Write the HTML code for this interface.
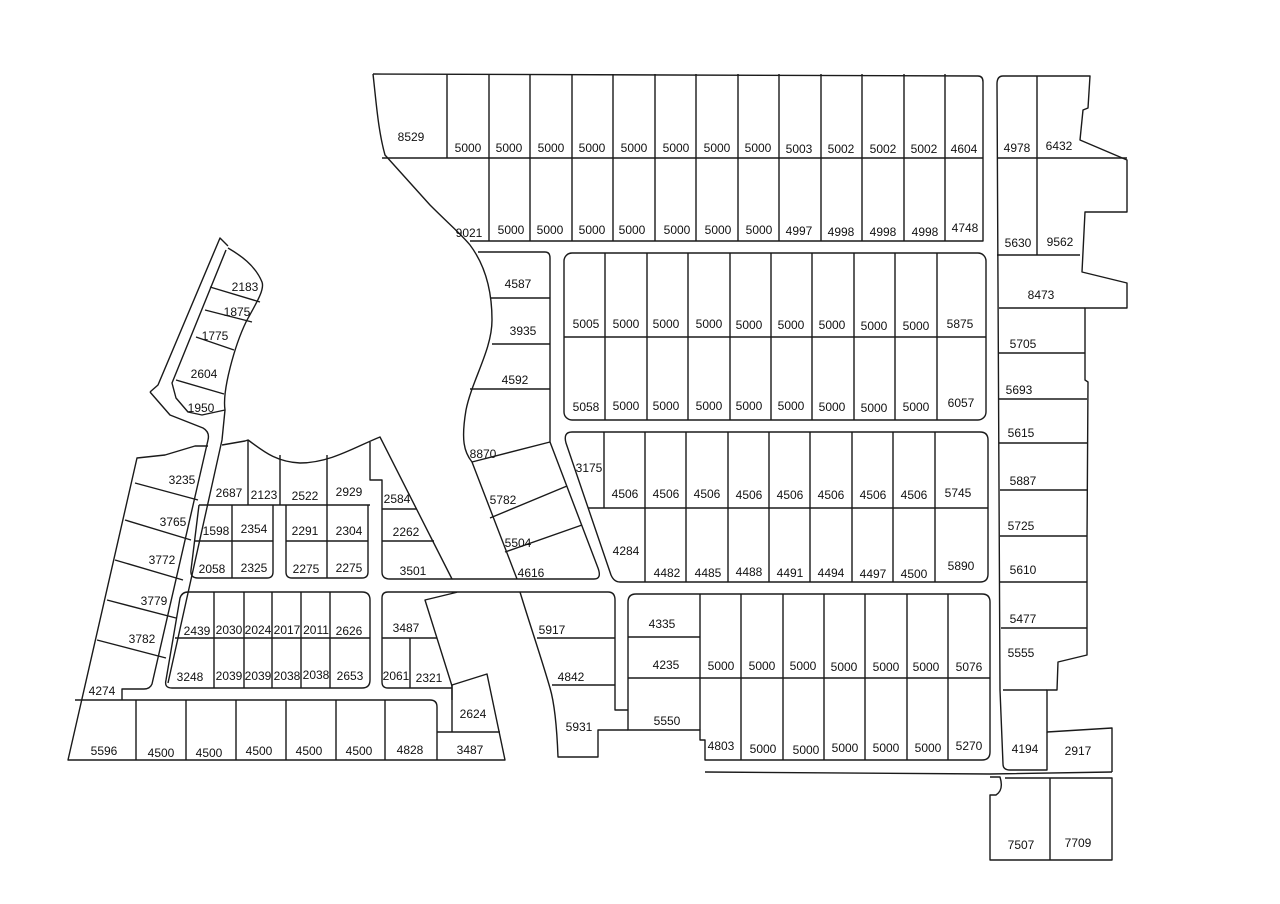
<!DOCTYPE html>
<html><head><meta charset="utf-8"><style>
html,body{margin:0;padding:0;background:#fff}
svg{display:block}
text{font-family:"Liberation Sans",sans-serif;font-size:12px;fill:#111;text-anchor:middle}
</style></head><body>
<svg width="1280" height="904" viewBox="0 0 1280 904" xmlns="http://www.w3.org/2000/svg">
<g fill="none" stroke="#1a1a1a" stroke-width="1.4" stroke-linejoin="round">
<!-- Top block -->
<path d="M373,74 L978,76 Q983,76 983,82 L983,241 L470,241"/>
<path d="M373,74 C376,100 378,130 385,155 L430,205 C450,225 462,235 470,245 C485,265 492,290 492,320 C492,350 472,380 466,410 C461,440 464,452 472,462 L517,579"/>
<path d="M382,158 L983,158"/>
<path d="M447,74 V158 M489,158 V241 M489,74 V158 M530,74 V241 M572,74 V241 M613,74 V241 M655,74 V241 M696,74 V241 M738,74 V241 M779,74 V241 M821,74 V241 M862,74 V241 M904,74 V241 M945,74 V241"/>
<!-- 4587 block -->
<path d="M478,252 L545,252 Q550,252 550,258 L550,442 L598,568 Q602,579 594,579 L517,579"/>
<path d="M490,298 H550 M492,344 H550 M470,389 H550 M472,462 L550,442 M490,518 L567,486 M505,552 L582,525"/>
<!-- Block 1 -->
<rect x="564" y="253" width="422" height="167" rx="8"/>
<path d="M564,337 H986 M605,253 V420 M647,253 V420 M688,253 V420 M730,253 V420 M771,253 V420 M812,253 V420 M854,253 V420 M895,253 V420 M937,253 V420"/>
<!-- Block 2 -->
<path d="M572,432 L980,432 Q988,432 988,440 L988,574 Q988,582 980,582 L620,582 Q614,582 611,575 L566,443 Q563,432 572,432 Z"/>
<path d="M588,508 H988 M604,432 V508 M645,432 V582 M686,432 V582 M728,432 V582 M769,432 V582 M810,432 V582 M852,432 V582 M893,432 V582 M935,432 V582"/>
<!-- Block 3 -->
<path d="M636,594 L982,594 Q990,594 990,602 L990,752 Q990,760 982,760 L705,760 L705,740 L700,740 L700,730 L628,730 L628,602 Q628,594 636,594 Z"/>
<path d="M628,637 H700 M628,678 H990 M700,594 V730 M741,594 V760 M783,594 V760 M824,594 V760 M865,594 V760 M907,594 V760 M948,594 V760"/>
<path d="M705,772 L990,774 L1112,772"/>
<!-- 5917 block -->
<path d="M520,592 L608,592 Q615,592 615,600 L615,710 L628,710"/>
<path d="M628,730 L598,730 L598,757 L558,757 C557,730 555,705 550,688 C542,660 530,625 520,592"/>
<path d="M537,638 H615 M552,685 H615"/>
<!-- road line -->
<path d="M452,579 H517 M458,592 H520"/>
<!-- Left strip lots -->
<path d="M150,392 L158,385 L220,238 L228,246 M226,250 L172,383 L176,398 L188,412 L202,415 L225,410 C222,390 235,345 246,322 C255,305 265,290 262,282 C255,265 240,255 228,248"/>
<path d="M150,392 L170,415 L203,428 Q210,432 208,440 L152,684 Q150,689 144,689 L122,689 L122,700"/>
<path d="M225,410 L222,440 L168,683"/>
<path d="M210,287 L260,302 M205,310 L252,322 M196,337 L234,350 M176,380 L224,394"/>
<!-- 3235 strip -->
<path d="M208,446 L195,446 L165,455 L137,458 L68,760 L505,760 L487,674 L452,685 L452,700"/>
<path d="M135,483 L198,500 M125,520 L191,540 M115,560 L183,580 M107,600 L176,618 M97,640 L166,658"/>
<path d="M75,700 L430,700 Q437,700 437,707 L437,760 M136,700 V760 M186,700 V760 M236,700 V760 M286,700 V760 M336,700 V760 M385,700 V760 M437,732 H500 M452,685 V732"/>
<!-- Block A -->
<path d="M222,445 L245,441 L248,440 C262,450 275,462 300,463 C330,463 355,447 380,437 L452,579 L390,579 Q382,579 382,572 L382,480 L370,480 L370,442"/>
<path d="M248,440 V505 M280,455 V505 M327,455 V505 M199,505 H370 M382,509 H417 M382,541 H434"/>
<path d="M199,505 L191,570 Q190,578 198,578 L267,578 Q273,578 273,572 L273,505 M195,541 H273 M232,505 V578"/>
<path d="M286,505 L286,572 Q286,578 292,578 L362,578 Q368,578 368,572 L368,505 M286,541 H368 M327,505 V578"/>
<!-- Block B -->
<path d="M188,592 L362,592 Q370,592 370,600 L370,680 Q370,688 362,688 L172,688 Q164,688 166,680 L180,598 Q182,592 188,592 Z"/>
<path d="M175,638 H370 M214,592 V688 M244,592 V688 M272,592 V688 M301,592 V688 M330,592 V688"/>
<!-- Block C -->
<path d="M458,592 L388,592 Q382,592 382,598 L382,682 Q382,688 388,688 L452,688 M458,592 L425,600 L452,686"/>
<path d="M382,638 H437 M410,638 V688"/>
<!-- Right column -->
<path d="M1003,76 L1090,76 L1088,108 L1083,110 L1080,140 L1127,160 L1127,212 L1085,212 L1082,272 L1127,283 L1127,308 L1085,308 L1085,380 L1088,382 L1087,540 L1087,655 L1058,662 L1057,690 L1047,690 L1047,732 L1112,728 L1112,772"/>
<path d="M1003,76 Q997,76 997,84 L1000,690 L1003,764 Q1003,770 1010,770 L1047,770 L1047,732"/>
<path d="M997,158 H1127 M1037,76 V255 M997,255 H1080 M999,308 H1085 M999,353 H1085 M999,399 H1087 M999,443 H1087 M1000,490 H1087 M1000,536 H1087 M1000,582 H1087 M1001,628 H1087 M1003,690 H1047"/>
<!-- 7507/7709 -->
<path d="M990,777 L1000,777 Q1004,790 996,795 L990,795 L990,860 L1112,860 L1112,778 L1005,778 M1050,778 V860"/>
</g>
<g>
<text x="411" y="141">8529</text>
<text x="468" y="152">5000</text><text x="509" y="152">5000</text><text x="551" y="152">5000</text><text x="592" y="152">5000</text><text x="634" y="152">5000</text><text x="676" y="152">5000</text><text x="717" y="152">5000</text><text x="758" y="152">5000</text><text x="799" y="153">5003</text><text x="841" y="153">5002</text><text x="883" y="153">5002</text><text x="924" y="153">5002</text><text x="964" y="153">4604</text>
<text x="469" y="237">9021</text><text x="511" y="234">5000</text><text x="550" y="234">5000</text><text x="592" y="234">5000</text><text x="632" y="234">5000</text><text x="677" y="234">5000</text><text x="718" y="234">5000</text><text x="759" y="234">5000</text><text x="799" y="235">4997</text><text x="841" y="236">4998</text><text x="883" y="236">4998</text><text x="925" y="236">4998</text><text x="965" y="232">4748</text>
<text x="1017" y="152">4978</text><text x="1059" y="150">6432</text><text x="1018" y="247">5630</text><text x="1060" y="246">9562</text><text x="1041" y="299">8473</text><text x="1023" y="348">5705</text><text x="1019" y="394">5693</text><text x="1021" y="437">5615</text><text x="1023" y="485">5887</text><text x="1021" y="530">5725</text><text x="1023" y="574">5610</text><text x="1023" y="623">5477</text><text x="1021" y="657">5555</text><text x="1025" y="753">4194</text><text x="1078" y="755">2917</text><text x="1021" y="849">7507</text><text x="1078" y="847">7709</text>
<text x="586" y="328">5005</text><text x="626" y="328">5000</text><text x="666" y="328">5000</text><text x="709" y="328">5000</text><text x="749" y="329">5000</text><text x="791" y="329">5000</text><text x="832" y="329">5000</text><text x="874" y="330">5000</text><text x="916" y="330">5000</text><text x="960" y="328">5875</text>
<text x="586" y="411">5058</text><text x="626" y="410">5000</text><text x="666" y="410">5000</text><text x="709" y="410">5000</text><text x="749" y="410">5000</text><text x="791" y="410">5000</text><text x="832" y="411">5000</text><text x="874" y="412">5000</text><text x="916" y="411">5000</text><text x="961" y="407">6057</text>
<text x="589" y="472">3175</text><text x="625" y="498">4506</text><text x="666" y="498">4506</text><text x="707" y="498">4506</text><text x="749" y="499">4506</text><text x="790" y="499">4506</text><text x="831" y="499">4506</text><text x="873" y="499">4506</text><text x="914" y="499">4506</text><text x="958" y="497">5745</text>
<text x="626" y="555">4284</text><text x="667" y="577">4482</text><text x="708" y="577">4485</text><text x="749" y="576">4488</text><text x="790" y="577">4491</text><text x="831" y="577">4494</text><text x="873" y="578">4497</text><text x="914" y="578">4500</text><text x="961" y="570">5890</text>
<text x="662" y="628">4335</text><text x="666" y="669">4235</text><text x="721" y="670">5000</text><text x="762" y="670">5000</text><text x="803" y="670">5000</text><text x="844" y="671">5000</text><text x="886" y="671">5000</text><text x="926" y="671">5000</text><text x="969" y="671">5076</text>
<text x="667" y="725">5550</text><text x="721" y="750">4803</text><text x="763" y="753">5000</text><text x="806" y="754">5000</text><text x="845" y="752">5000</text><text x="886" y="752">5000</text><text x="928" y="752">5000</text><text x="969" y="750">5270</text>
<text x="552" y="634">5917</text><text x="571" y="681">4842</text><text x="579" y="731">5931</text>
<text x="518" y="288">4587</text><text x="523" y="335">3935</text><text x="515" y="384">4592</text><text x="483" y="458">8870</text><text x="503" y="504">5782</text><text x="518" y="547">5504</text><text x="531" y="577">4616</text>
<text x="245" y="291">2183</text><text x="237" y="316">1875</text><text x="215" y="340">1775</text><text x="204" y="378">2604</text><text x="201" y="412">1950</text>
<text x="182" y="484">3235</text><text x="173" y="526">3765</text><text x="162" y="564">3772</text><text x="154" y="605">3779</text><text x="142" y="643">3782</text><text x="102" y="695">4274</text>
<text x="229" y="497">2687</text><text x="264" y="499">2123</text><text x="305" y="500">2522</text><text x="349" y="496">2929</text><text x="397" y="503">2584</text>
<text x="216" y="535">1598</text><text x="254" y="533">2354</text><text x="305" y="535">2291</text><text x="349" y="535">2304</text><text x="406" y="536">2262</text>
<text x="212" y="573">2058</text><text x="254" y="572">2325</text><text x="306" y="573">2275</text><text x="349" y="572">2275</text><text x="413" y="575">3501</text>
<text x="197" y="635">2439</text><text x="229" y="634">2030</text><text x="258" y="634">2024</text><text x="287" y="634">2017</text><text x="316" y="634">2011</text><text x="349" y="635">2626</text><text x="406" y="632">3487</text>
<text x="190" y="681">3248</text><text x="229" y="680">2039</text><text x="258" y="680">2039</text><text x="287" y="680">2038</text><text x="316" y="679">2038</text><text x="350" y="680">2653</text><text x="396" y="680">2061</text><text x="429" y="682">2321</text>
<text x="473" y="718">2624</text><text x="470" y="754">3487</text>
<text x="104" y="755">5596</text><text x="161" y="757">4500</text><text x="209" y="757">4500</text><text x="259" y="755">4500</text><text x="309" y="755">4500</text><text x="359" y="755">4500</text><text x="410" y="754">4828</text>
</g>
</svg>
</body></html>
